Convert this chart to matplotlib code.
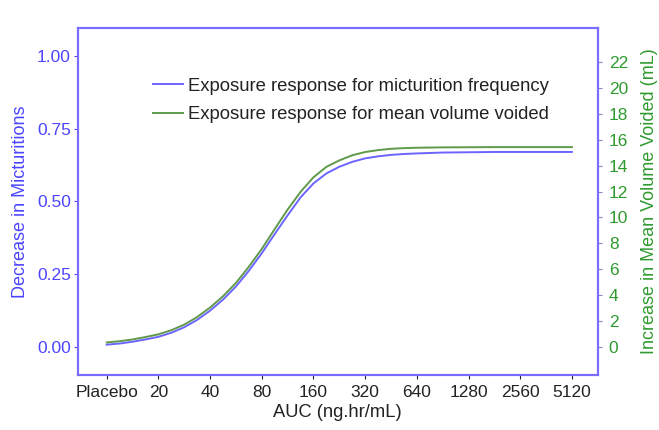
import numpy as np
import matplotlib
matplotlib.use("Agg")
import matplotlib.pyplot as plt
from matplotlib.ticker import FixedLocator, FixedFormatter, NullLocator

plt.rcParams['font.family'] = ['Liberation Sans', 'DejaVu Sans']

# AUC (ng.hr/mL); placebo is drawn at the 10 position of the log2 axis
auc = [10, 11.9, 14.1, 16.8, 20, 23.8, 28.3, 33.6, 40, 47.6, 56.6, 67.3,
       80, 95.1, 113, 135, 160, 190, 226, 269, 320, 381, 453, 538, 640,
       905, 1280, 1810, 2560, 3620, 5120]

# decrease in micturitions (left axis)
micturition = [0.008, 0.012, 0.018, 0.026, 0.035, 0.049, 0.068, 0.093,
               0.125, 0.163, 0.208, 0.262, 0.322, 0.388, 0.452, 0.515,
               0.562, 0.596, 0.619, 0.636, 0.648, 0.655, 0.660, 0.663,
               0.665, 0.668, 0.669, 0.670, 0.670, 0.670, 0.670]

# increase in mean volume voided, mL (right axis)
volume = [0.35, 0.45, 0.58, 0.77, 0.98, 1.30, 1.73, 2.31, 3.05, 3.92,
          4.95, 6.2, 7.57, 9.1, 10.6, 12.0, 13.1, 13.9, 14.4, 14.8, 15.05,
          15.2, 15.3, 15.35, 15.38, 15.41, 15.42, 15.43, 15.43, 15.43, 15.43]

tick_auc = [10, 20, 40, 80, 160, 320, 640, 1280, 2560, 5120]
tick_labels = ['Placebo', '20', '40', '80', '160', '320', '640', '1280', '2560', '5120']
left_ticks = [0.0, 0.25, 0.5, 0.75, 1.0]
right_ticks = list(range(0, 23, 2))

BLUE = '#4c44ff'
FRAME = '#7a6cff'
GREEN = '#2f9a2f'
LINE_GREEN = '#5f9a4a'

fig = plt.figure(figsize=(6.59, 4.30), dpi=100)
ax = fig.add_axes([0.118, 0.128, 0.789, 0.807])
ax2 = ax.twinx()

l1, = ax.plot(auc, micturition, color='#6c64ff', lw=1.4,
              label='Exposure response for micturition frequency')
l2, = ax2.plot(auc, volume, color=LINE_GREEN, lw=1.4,
               label='Exposure response for mean volume voided')

ax.set_xscale('log', base=2)
ax.set_xlim(6.78, 7241)
ax.xaxis.set_major_locator(FixedLocator(tick_auc))
ax.xaxis.set_major_formatter(FixedFormatter(tick_labels))
ax.xaxis.set_minor_locator(NullLocator())

# both y axes share the same pixel mapping: 1.0 on the left = 22.47 mL
ax.set_ylim(-0.096, 1.096)
ax.set_yticks(left_ticks)
ax.set_yticklabels(['%.2f' % v for v in left_ticks])
ax2.set_ylim(-0.096 * 22.47, 1.096 * 22.47)
ax2.set_yticks(right_ticks)

fs = 12.5
ax.tick_params(axis='x', labelsize=fs, colors='#222222', length=3, width=0.8, pad=4)
ax.tick_params(axis='y', labelsize=fs, colors=BLUE, length=3, width=0.8, pad=2)
ax2.tick_params(axis='y', labelsize=fs, labelcolor=GREEN, color='#8888cc', length=3, width=0.8, pad=5)

for a in (ax, ax2):
    for sp in a.spines.values():
        sp.set_color(FRAME)
        sp.set_linewidth(1.5)

ax.set_xlabel('AUC (ng.hr/mL)', fontsize=13.2, color='#222222', labelpad=3)
ax.set_ylabel('Decrease in Micturitions', fontsize=13, color=BLUE, labelpad=6)
ax2.set_ylabel('Increase in Mean Volume Voided (mL)', fontsize=13, color=GREEN, labelpad=9)

ax.legend(handles=[l1, l2], loc='upper left', bbox_to_anchor=(0.113, 0.905),
          frameon=False, fontsize=13.3, handlelength=1.6, handletextpad=0.3,
          labelspacing=0.62, labelcolor='#222222')

fig.savefig('out.png', dpi=100)
